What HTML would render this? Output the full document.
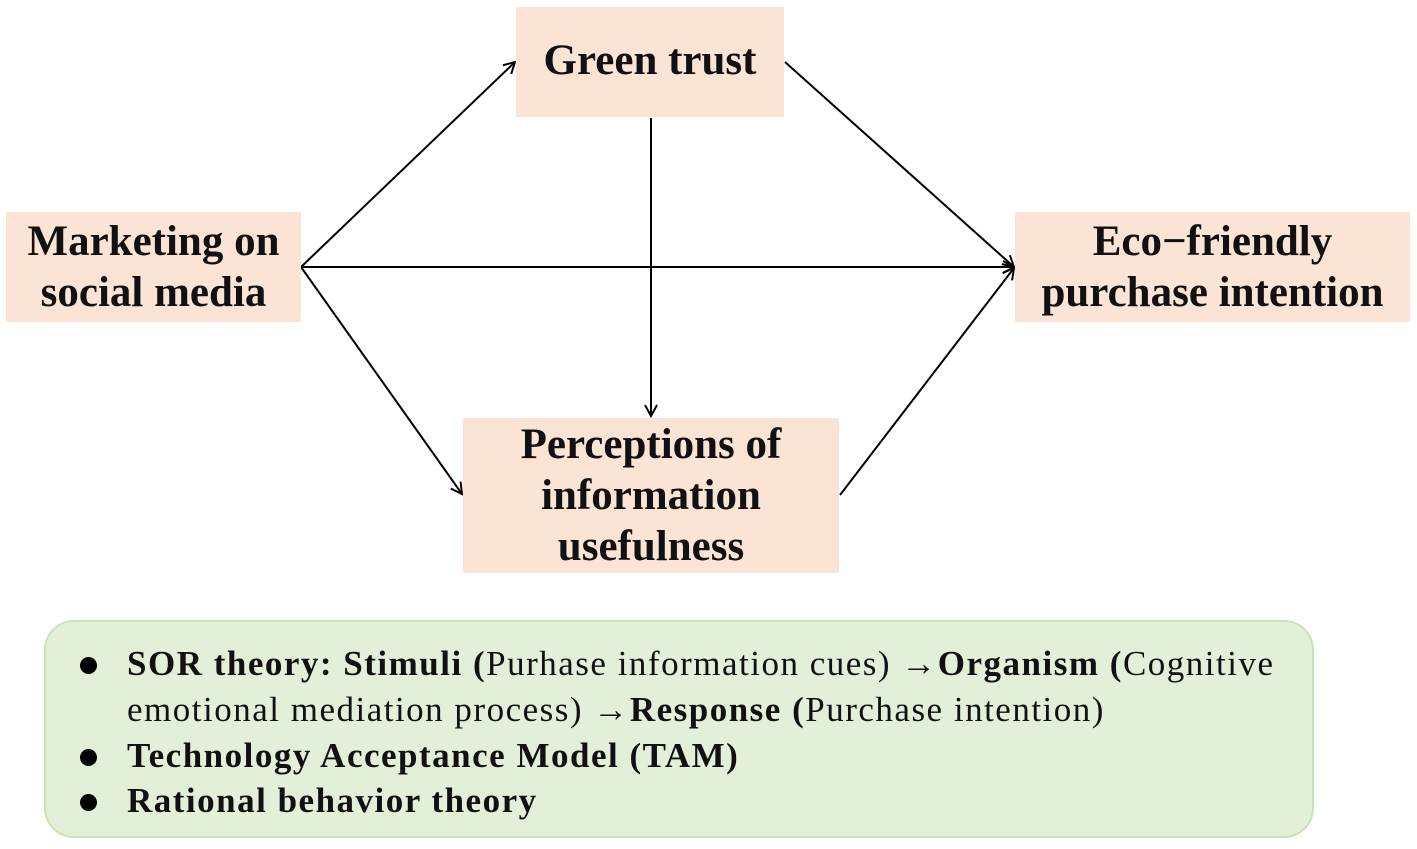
<!DOCTYPE html>
<html><head><style>
body{margin:0;width:1417px;height:849px;background:#fff;position:relative;overflow:hidden;font-family:"Liberation Serif",serif;}
.n{position:absolute;background:#fbe4d5;display:flex;align-items:center;justify-content:center;text-align:center;font-weight:bold;font-size:43px;line-height:51px;color:#111;}
.g{position:absolute;left:44px;top:620px;width:1270px;height:218px;background:#e2efd9;border:2px solid #c9e2b8;border-radius:30px;box-sizing:border-box;}
.l{position:absolute;left:127px;font-size:35px;letter-spacing:1.5px;color:#111;white-space:nowrap;}
.d{position:absolute;left:80px;width:17px;height:17px;border-radius:50%;background:#000;}
</style></head><body>
<svg width="1417" height="849" style="position:absolute;left:0;top:0">
<defs><marker id="a" markerWidth="14" markerHeight="14" refX="12" refY="7" orient="auto" markerUnits="userSpaceOnUse"><path d="M1,1 L12,7 L1,13" fill="none" stroke="#000" stroke-width="2"/></marker></defs>
<g stroke="#000" stroke-width="2" fill="none">
<line x1="301" y1="267" x2="515" y2="62" marker-end="url(#a)"/>
<line x1="301" y1="267" x2="1014" y2="267" marker-end="url(#a)"/>
<line x1="301" y1="267" x2="462" y2="494" marker-end="url(#a)"/>
<line x1="785" y1="62" x2="1014" y2="267" marker-end="url(#a)"/>
<line x1="651" y1="118" x2="651" y2="416" marker-end="url(#a)"/>
<line x1="840" y1="495" x2="1014" y2="268" marker-end="url(#a)"/>
</g></svg>
<div class="n" style="left:516px;top:7px;width:268px;height:110px;padding-bottom:4px;box-sizing:border-box">Green trust</div>
<div class="n" style="left:6px;top:212px;width:295px;height:110px">Marketing on<br>social media</div>
<div class="n" style="left:1015px;top:212px;width:395px;height:110px">Eco−friendly<br>purchase intention</div>
<div class="n" style="left:463px;top:418px;width:376px;height:155px">Perceptions of<br>information<br>usefulness</div>
<div class="g"></div>
<div class="d" style="top:657px"></div>
<div class="l" style="top:644px"><b>SOR theory: Stimuli (</b>Purhase information cues) →<b>Organism (</b>Cognitive</div>
<div class="l" style="top:690px">emotional mediation process) →<b>Response (</b>Purchase intention)</div>
<div class="d" style="top:749px"></div>
<div class="l" style="top:736px"><b>Technology Acceptance Model (TAM)</b></div>
<div class="d" style="top:794px"></div>
<div class="l" style="top:781px"><b>Rational behavior theory</b></div>
</body></html>
